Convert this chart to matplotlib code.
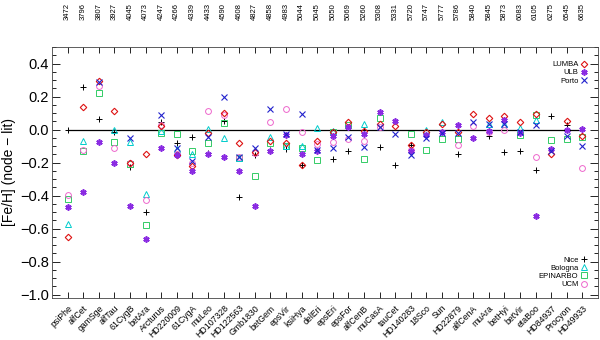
import numpy as np
import matplotlib
matplotlib.use("Agg")
import matplotlib.pyplot as plt
from matplotlib.ticker import MultipleLocator

nan = np.nan
stars = ["psiPhe", "alfCet", "gamSge", "alfTau", "61CygB", "betAra", "Arcturus",
         "HD220009", "61CygA", "muLeo", "HD107328", "HD122563", "Gmb1830", "betGem",
         "epsVir", "ksiHya", "delEri", "epsEri", "epsFor", "alfCenB", "muCasA",
         "tauCet", "HD140283", "18Sco", "Sun", "HD22879", "alfCenA", "muAra",
         "betHyi", "betVir", "etaBoo", "HD84937", "Procyon", "HD49933"]
teff = ["3472", "3796", "3807", "3927", "4045", "4073", "4247", "4266", "4339",
        "4433", "4590", "4608", "4827", "4858", "4983", "5044", "5045", "5050",
        "5069", "5260", "5308", "5331", "5720", "5747", "5777", "5786", "5840",
        "5845", "5873", "6083", "6105", "6275", "6545", "6635"]

lumba = [-0.648, 0.136, 0.295, 0.112, -0.205, -0.146, 0.019, -0.155, -0.218, -0.019,
         0.103, -0.081, -0.136, -0.070, -0.080, -0.212, -0.067, -0.017, 0.047, -0.007,
         0.033, 0.023, -0.093, -0.012, 0.035, -0.017, 0.093, 0.071, 0.081, 0.047,
         0.093, -0.146, 0.050, -0.040]
ulb = [-0.470, -0.379, -0.075, -0.200, -0.465, -0.664, -0.110, -0.156, -0.248, -0.146,
       -0.166, -0.248, -0.465, -0.130, -0.030, -0.146, -0.127, -0.041, 0.013, -0.025,
       0.108, 0.050, -0.127, -0.033, -0.013, 0.027, -0.053, -0.007, 0.060, -0.018,
       -0.524, -0.120, 0.000, 0.006]
porto = [nan, nan, 0.290, nan, -0.053, nan, 0.087, -0.112, -0.190, -0.043,
         0.200, -0.166, -0.112, 0.127, -0.027, 0.093, -0.125, -0.112, -0.047, -0.107,
         0.013, -0.025, -0.156, -0.053, -0.018, -0.020, 0.047, 0.035, 0.035, -0.015,
         0.027, -0.132, -0.036, -0.100]
nice = [0.000, 0.260, 0.065, -0.017, -0.225, -0.500, 0.043, -0.079, -0.047, -0.140,
        0.053, -0.411, -0.152, -0.125, -0.118, -0.212, nan, -0.180, -0.127, 0.000,
        -0.107, -0.216, -0.093, nan, nan, -0.146, nan, -0.037, -0.137, -0.127,
        -0.247, 0.085, 0.030, nan]
bologna = [-0.574, -0.071, nan, 0.000, -0.077, -0.389, -0.010, -0.115, -0.145, 0.005,
           -0.049, -0.170, nan, -0.047, -0.100, -0.100, 0.010, -0.010, nan, 0.032,
           nan, nan, nan, 0.000, 0.047, nan, nan, 0.035, 0.035, 0.010,
           0.060, nan, nan, nan]
epinarbo = [-0.420, -0.130, 0.224, -0.077, -0.210, -0.578, -0.020, -0.027, -0.127, -0.079,
            0.039, -0.175, -0.280, -0.083, -0.102, -0.109, -0.186, -0.013, 0.025, -0.176,
            0.072, nan, -0.025, -0.125, -0.055, -0.055, nan, nan, nan, -0.030,
            0.088, -0.065, -0.060, -0.042]
ucm = [-0.395, -0.125, 0.264, -0.109, -0.200, -0.427, 0.025, -0.150, -0.205, 0.112,
       0.088, -0.165, -0.140, 0.043, 0.127, -0.017, -0.086, -0.073, -0.055, -0.067,
       0.013, nan, -0.125, nan, nan, -0.095, 0.023, -0.015, 0.000, nan,
       -0.168, nan, nan, -0.230]

plt.rcParams['font.family'] = ['Liberation Sans', 'DejaVu Sans']

fig = plt.figure(figsize=(6, 3.4), dpi=100)
ax = fig.add_axes([52/600, 1-298/340, 546/600, 251/340])
x = np.arange(1, len(stars)+1)

ax.plot([1, len(stars)], [0, 0], color='black', lw=0.9, zorder=1)

styles = [
    ("Nice", nice, dict(marker='+', color='black', ms=4.5, mew=0.7)),
    ("EPINARBO", epinarbo, dict(marker='s', mfc='none', mec='#33cc66', ms=3.8, mew=0.7)),
    ("Bologna", bologna, dict(marker='^', mfc='none', mec='#00cccc', ms=4.2, mew=0.7)),
    ("UCM", ucm, dict(marker='o', mfc='none', mec='#ee66cc', ms=4.2, mew=0.7)),
    ("LUMBA", lumba, dict(marker='D', mfc='none', mec='#dd1111', ms=3.3, mew=0.8)),
    ("ULB", ulb, dict(marker=(6, 2, 0), color='#8a2be2', ms=4.5, mew=1.2)),
    ("Porto", porto, dict(marker='x', color='#2222cc', ms=3.8, mew=0.8)),
]
handles = {}
for name, vals, st in styles:
    h, = ax.plot(x, vals, ls='none', **st)
    handles[name] = h

ax.set_xlim(0, len(stars)+1)
ax.set_ylim(-1.02, 0.5)
ax.set_xticks(x)
ax.set_xticklabels(stars, rotation=45, ha='right', rotation_mode='anchor', fontsize=6.3)
ax.yaxis.set_minor_locator(MultipleLocator(0.05))
ax.set_yticks(np.arange(-1.0, 0.41, 0.2))
ax.set_yticklabels(["\u22121.0", "\u22120.8", "\u22120.6", "\u22120.4", "\u22120.2", "0.0", "0.2", "0.4"])
ax.tick_params(axis='y', which='both', direction='in', right=True, labelsize=10.5, pad=2)
ax.tick_params(axis='y', which='major', length=6, width=0.6)
ax.tick_params(axis='y', which='minor', length=3, width=0.6)
ax.tick_params(axis='x', direction='in', top=True, length=4, width=0.6, pad=4)
for sp in ax.spines.values():
    sp.set_linewidth(0.6)
    sp.set_color('#444444')

ax2 = ax.secondary_xaxis('top')
ax2.set_xticks(x)
ax2.set_xticklabels(teff, rotation=90, fontsize=5.5)
ax2.tick_params(axis='x', direction='in', length=0, pad=19.5)
for sp in ax2.spines.values():
    sp.set_visible(False)

ax.set_ylabel("[Fe/H] (node \u2212 lit)", fontsize=10, labelpad=3)

leg_kw = dict(frameon=False, fontsize=5.5, markerfirst=False, handlelength=0.6,
              handleheight=0.5, handletextpad=0.4, labelspacing=0.15, borderaxespad=0,
              borderpad=0)
leg1 = ax.legend([handles[n] for n in ["LUMBA", "ULB", "Porto"]], ["LUMBA", "ULB", "Porto"],
                 loc='upper right', bbox_to_anchor=(0.978, 0.943), **leg_kw)
ax.add_artist(leg1)
ax.legend([handles[n] for n in ["Nice", "Bologna", "EPINARBO", "UCM"]],
          ["Nice", "Bologna", "EPINARBO", "UCM"],
          loc='lower right', bbox_to_anchor=(0.978, 0.04), **leg_kw)

fig.savefig("out.png", dpi=100)
